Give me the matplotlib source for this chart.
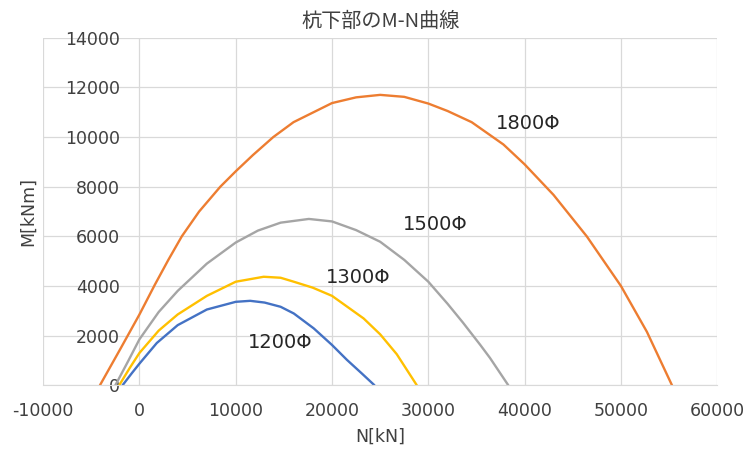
import matplotlib.pyplot as plt

plt.rcParams['font.family'] = ['DejaVu Sans', 'Noto Sans CJK JP']
plt.rcParams['axes.unicode_minus'] = False

# M-N curves: N[kN], M[kNm]
n_1200 = [-1750, -800, 0, 1800, 3970, 7000, 10000, 11500, 13000, 14660, 16030, 18100, 20000, 21550, 23100, 24400]
m_1200 = [0, 480, 870, 1700, 2420, 3050, 3360, 3400, 3330, 3160, 2890, 2290, 1620, 1020, 470, 0]

n_1300 = [-2100, -1000, 0, 2000, 3970, 7000, 10000, 12900, 14660, 16030, 18000, 20000, 23280, 25000, 26720, 28800]
m_1300 = [0, 700, 1300, 2200, 2850, 3600, 4170, 4370, 4330, 4170, 3930, 3600, 2690, 2050, 1250, 0]

n_1500 = [-2500, -1200, 0, 2000, 3970, 7000, 10000, 12300, 14660, 17590, 20000, 22500, 25000, 27500,
          30000, 32000, 33600, 35400, 36400, 38300]
m_1500 = [0, 950, 1850, 2950, 3800, 4900, 5750, 6230, 6550, 6700, 6600, 6250, 5780, 5050,
          4170, 3280, 2520, 1620, 1100, 0]

n_1800 = [-4100, -2000, 0, 1600, 3000, 4400, 6200, 8400, 10000, 11800, 13900, 16000, 20000, 22500,
          25000, 27500, 30000, 32000, 34500, 37800, 40000, 43000, 46470, 50000, 52700, 55300]
m_1800 = [0, 1450, 2850, 4050, 5050, 6000, 7000, 8000, 8620, 9280, 10000, 10600, 11370, 11600,
          11700, 11620, 11350, 11050, 10600, 9700, 8900, 7670, 5990, 4000, 2150, 0]

labels = ['1200Φ', '1300Φ', '1500Φ', '1800Φ']
label_n = [14580, 22700, 30730, 40400]
label_m = [1730, 4350, 6490, 10560]

x_ticks = [-10000, 0, 10000, 20000, 30000, 40000, 50000, 60000]
y_ticks = [0, 2000, 4000, 6000, 8000, 10000, 12000, 14000]

colors = ['#4472C4', '#FFC000', '#A5A5A5', '#ED7D31']

fig = plt.figure(figsize=(7.44, 4.5), dpi=100)
ax = fig.add_axes([0.058, 0.144, 0.906, 0.772])

series = [(n_1200, m_1200), (n_1300, m_1300), (n_1500, m_1500), (n_1800, m_1800)]
for (n, m), c in zip(series, colors):
    ax.plot(n, m, color=c, linewidth=1.7, solid_joinstyle='round', solid_capstyle='round')

for t, x, y in zip(labels, label_n, label_m):
    ax.text(x, y, t, fontsize=14, ha='center', va='center', color='#262626')

ax.set_xlim(-10000, 60000)
ax.set_ylim(0, 14000)
ax.set_xticks(x_ticks)
ax.set_yticks(y_ticks)
ax.grid(True, color='#d9d9d9', linewidth=0.9)
ax.set_axisbelow(True)

for s in ['top', 'right']:
    ax.spines[s].set_visible(False)
ax.spines['left'].set_position(('data', 0))
ax.spines['left'].set_visible(False)
ax.spines['bottom'].set_color('#d9d9d9')

ax.tick_params(axis='both', length=0, labelsize=12.5, colors='#404040')
ax.tick_params(axis='y', pad=14)
ax.tick_params(axis='x', pad=12)

ax.set_title('杭下部のM-N曲線', fontsize=14.5, color='#404040',
             family=['Noto Sans CJK JP', 'DejaVu Sans'], pad=8)
ax.set_xlabel('N[kN]', fontsize=12.5, color='#404040', labelpad=6)
fig.text(0.038, 0.53, 'M[kNm]', rotation=90, fontsize=12.5, color='#404040',
         ha='center', va='center')

plt.savefig('out.png', dpi=100)
